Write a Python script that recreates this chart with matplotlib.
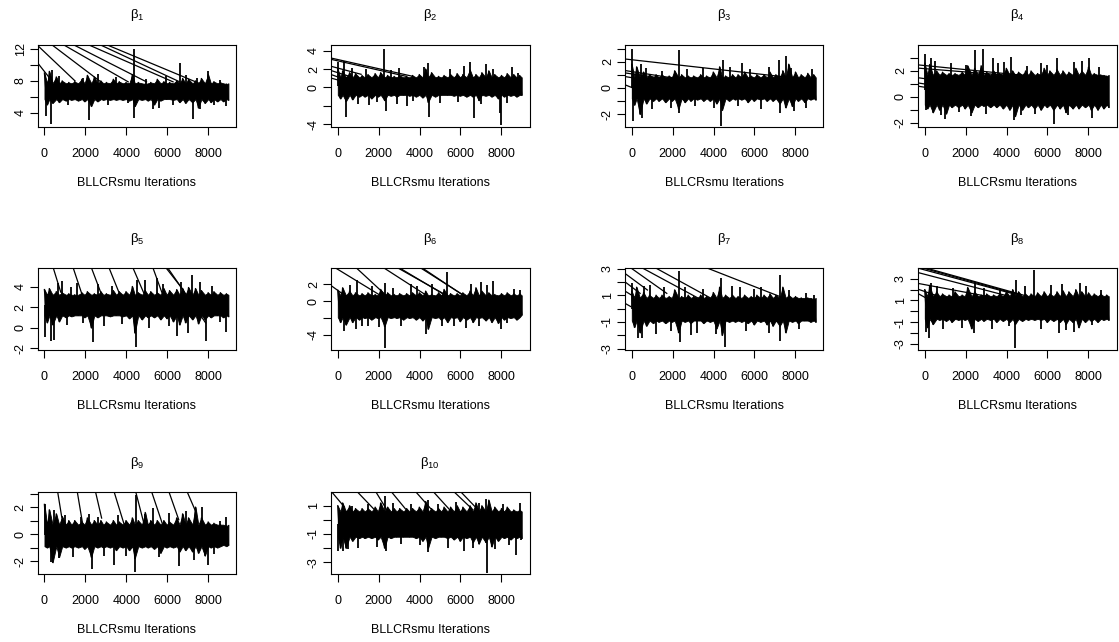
import numpy as np
import matplotlib.pyplot as plt

plt.rcParams['font.family'] = ['Liberation Sans', 'DejaVu Sans']
plt.rcParams['mathtext.fontset'] = 'custom'
plt.rcParams['mathtext.rm'] = 'Liberation Sans'
plt.rcParams['mathtext.it'] = 'Liberation Sans'

# iterations of the local highs and lows of each trace
hi_iter = [1, 240, 580, 870, 1190, 1480, 1830, 2100, 2440, 2760, 3030, 3370, 3660, 3990, 4300,
           4590, 4930, 5200, 5520, 5840, 6120, 6470, 6760, 7050, 7390, 7680, 8010, 8290, 8610, 8900]
lo_iter = [130, 400, 720, 1050, 1320, 1650, 1960, 2290, 2600, 2880, 3210, 3510, 3830, 4150, 4420,
           4770, 5060, 5370, 5680, 5980, 6300, 6610, 6900, 7240, 7530, 7850, 8140, 8460, 8750, 9000]
xticks = [0, 2000, 4000, 6000, 8000]
xlabel = 'BLLCRsmu Iterations'

# ---- beta 1
b1_core = (5.7, 7.7)
b1_hi = [9.0, 9.2, 8.5, 8.0, 7.8, 7.9, 8.2, 8.7, 8.5, 8.0, 7.8, 8.2, 7.9, 7.8, 8.8,
         7.8, 7.6, 7.8, 8.2, 7.9, 7.8, 8.0, 8.3, 8.2, 8.0, 8.3, 8.8, 7.9, 7.8, 7.6]
b1_lo = [5.0, 5.2, 5.3, 5.5, 5.6, 5.5, 5.4, 4.8, 5.4, 5.6, 5.6, 5.6, 5.6, 5.5, 4.8,
         5.6, 5.5, 5.0, 5.5, 5.7, 5.6, 5.3, 5.2, 5.3, 4.6, 5.2, 5.3, 5.4, 5.4, 5.6]
b1_spikes = [(80, 3.5), (300, 2.5), (350, 9.4), (2200, 3.0), (4370, 12.0), (4400, 3.3),
             (5300, 4.4), (6640, 10.3), (7250, 3.2), (7600, 4.4), (8000, 9.3), (8900, 4.8),
             (700, 8.6), (1150, 4.9), (1900, 8.4), (2600, 8.9), (3100, 5.0), (3500, 8.5),
             (4100, 5.2), (4950, 8.3), (5600, 4.6), (5950, 8.6), (6300, 5.0), (6900, 8.7),
             (7450, 8.4), (8300, 4.9), (8600, 8.1)]
b1_diag = [(-325, 10.25, 276, 8.29), (-325, 12.46, 1496, 8.0), (358, 12.58, 2715, 7.96),
           (927, 12.58, 4098, 7.88), (1415, 12.58, 4992, 7.88), (2146, 12.58, 6293, 7.88),
           (2715, 12.58, 6618, 7.88), (3041, 12.58, 7593, 7.67)]
b1_ylim = (2.21, 12.58)
b1_yticks = [4, 6, 8, 10, 12]
b1_ylabels = ['4', '', '8', '', '12']

# ---- beta 2
b2_core = (-0.8, 1.1)
b2_hi = [2.0, 1.8, 1.6, 1.5, 1.3, 1.4, 1.5, 1.6, 1.3, 1.2, 1.3, 1.2, 1.3, 1.4, 2.0,
         1.6, 1.2, 1.3, 1.4, 1.5, 1.4, 1.9, 1.4, 1.6, 1.8, 1.4, 1.3, 1.5, 1.4, 1.3]
b2_lo = [-1.2, -1.5, -1.3, -1.0, -1.0, -1.2, -1.0, -1.4, -0.9, -1.0, -0.8, -0.9, -1.0, -1.1, -1.6,
         -1.0, -0.8, -0.8, -0.9, -0.9, -1.0, -1.0, -1.4, -0.9, -1.0, -1.2, -1.0, -0.9, -1.0, -0.8]
b2_spikes = [(30, 2.8), (330, 2.9), (410, -3.2), (1550, -1.9), (2280, 4.2), (2340, -2.5),
             (2900, -1.8), (3400, -2.0), (4430, 2.7), (4470, -3.2), (6450, 2.8), (6660, -3.3),
             (7250, 2.6), (7920, -2.8), (8000, -4.1), (8500, 2.2), (8800, 1.6),
             (700, 2.1), (1000, -1.8), (1400, 2.0), (1900, -1.6), (2600, 1.9), (3000, 2.1),
             (3700, -1.5), (4200, 2.2), (5000, -1.7), (5500, 2.0), (5900, -1.6), (6200, 2.3),
             (7000, -1.8), (7600, 2.0), (8300, -1.7)]
b2_diag = [(-359, 3.21, 3673, 1.21), (-359, 3.07, 3347, 1.21), (-359, 2.32, 1143, 1.43),
           (-359, 1.86, 571, 1.21), (-359, 1.43, 245, 0.96), (-359, 1.04, 49, 0.79)]
b2_ylim = (-4.25, 4.64)
b2_yticks = [-4, -2, 0, 2, 4]
b2_ylabels = ['-4', '', '0', '2', '4']

# ---- beta 3
b3_core = (-0.8, 0.8)
b3_hi = [1.8, 1.6, 1.2, 1.0, 1.0, 1.0, 0.9, 1.3, 1.0, 0.9, 0.9, 1.0, 0.9, 1.2, 1.6,
         0.9, 1.0, 1.0, 1.2, 0.9, 1.0, 1.0, 1.2, 1.0, 1.3, 1.8, 1.2, 1.0, 1.1, 1.0]
b3_lo = [-1.3, -2.0, -1.2, -1.0, -1.0, -1.1, -1.0, -1.6, -1.1, -1.0, -0.9, -1.0, -1.0, -1.2, -1.7,
         -1.0, -0.9, -0.9, -1.1, -1.0, -0.9, -1.0, -1.0, -1.2, -1.5, -1.4, -1.0, -1.1, -0.9, -0.9]
b3_spikes = [(30, 3.0), (40, -2.5), (500, -2.3), (450, 1.8), (2330, 2.9), (2300, -1.9),
             (4375, -2.9), (4440, 2.1), (5390, 1.9), (7270, -1.9), (7540, 2.4), (7200, 2.1),
             (7950, -1.8), (8800, 1.4),
             (700, 1.5), (1000, -1.6), (1500, 1.3), (1900, -1.5), (2700, 1.4), (3100, -1.4),
             (3500, 1.5), (4000, -1.5), (4800, 1.6), (5200, -1.4), (5800, 1.4), (6300, -1.6),
             (6700, 1.6), (7800, 1.5), (8500, -1.5)]
b3_diag = [(-327, 2.2, 7918, 0.76), (-327, 1.32, 3347, 0.43), (-327, 1.14, 2204, 0.56),
           (-327, 0.86, 1388, 0.43), (-327, 0.23, 49, 0.0)]
b3_ylim = (-2.96, 3.29)
b3_yticks = [-2, -1, 0, 1, 2, 3]
b3_ylabels = ['-2', '', '0', '', '2', '']

# ---- beta 4
b4_core = (-0.6, 1.7)
b4_hi = [2.6, 2.5, 2.0, 1.9, 1.8, 1.8, 1.9, 2.4, 2.2, 2.4, 1.9, 2.0, 1.8, 2.2, 2.0,
         1.9, 2.0, 2.0, 1.8, 2.2, 2.0, 2.1, 2.0, 1.9, 2.2, 2.0, 2.3, 1.8, 1.7, 1.6]
b4_lo = [-0.9, -1.2, -1.0, -1.3, -0.8, -0.8, -0.9, -1.2, -0.8, -0.7, -0.8, -0.8, -0.9, -1.0, -1.5,
         -1.0, -0.8, -0.9, -1.0, -0.8, -1.0, -0.9, -1.2, -0.9, -0.9, -0.8, -1.0, -1.0, -0.9, -0.8]
b4_spikes = [(10, 3.3), (60, -1.0), (300, 3.0), (985, -1.7), (2250, -1.5), (2450, 3.6),
             (2860, 3.7), (3350, 3.0), (4380, -1.8), (4200, 3.1), (6320, -2.1), (6000, 2.5),
             (6470, 3.0), (7700, 2.8), (8050, 3.0), (8200, -1.6), (8900, -0.7),
             (500, 2.8), (800, -1.4), (1300, 2.6), (1700, -1.2), (2000, 2.5), (3000, -1.3),
             (3600, 2.6), (3900, 2.7), (4700, -1.4), (5000, 2.4), (5400, -1.3), (5700, 2.6),
             (7000, -1.4), (7300, 2.7), (8500, 2.3)]
b4_diag = [(-378, 2.48, 5287, 1.59), (-378, 2.23, 5944, 1.42), (-378, 1.49, 1182, 1.16),
           (-378, 1.09, 361, 0.91), (-378, 0.84, 66, 0.73)]
b4_ylim = (-2.3, 4.03)
b4_yticks = [-2, -1, 0, 1, 2, 3]
b4_ylabels = ['-2', '', '0', '', '2', '']

# ---- beta 5
b5_core = (1.2, 3.2)
b5_hi = [3.7, 3.8, 3.5, 3.4, 3.3, 3.2, 3.4, 3.5, 3.3, 3.5, 3.3, 3.6, 3.5, 3.5, 4.0,
         3.4, 3.6, 3.5, 3.4, 3.8, 3.6, 3.7, 3.8, 3.9, 3.8, 3.6, 3.4, 3.5, 3.4, 3.3]
b5_lo = [0.5, 0.3, 0.6, 1.0, 1.1, 1.2, 1.0, 0.0, 1.0, 1.2, 1.1, 1.2, 1.1, 0.9, -0.5,
         0.8, 1.0, 1.0, 0.8, 0.9, 0.6, 0.3, 0.5, 0.8, 0.4, 0.8, 1.0, 1.2, 1.0, 1.1]
b5_spikes = [(40, -0.9), (310, -1.3), (450, -1.2), (860, 4.5), (1600, 4.3), (2360, -1.4),
             (4460, -1.9), (4520, 4.6), (4900, 4.6), (5500, 4.8), (7240, 5.1), (7890, -1.3),
             (7600, 4.4), (6500, -0.8), (8900, -0.4),
             (650, 4.3), (1100, 0.3), (1300, 4.0), (1900, 0.5), (2600, 4.2), (2900, 0.2),
             (3300, 4.1), (3800, 0.4), (5100, 0.0), (5800, 4.2), (6100, 0.2), (6700, 4.4),
             (7000, -0.5), (8200, 4.1), (8600, 0.6)]
b5_diag = [(439, 5.76, 797, 3.46), (1415, 5.76, 1870, 3.04), (2309, 5.76, 2797, 3.2),
           (3171, 5.76, 3724, 3.04), (4341, 5.76, 4862, 3.36), (5317, 5.76, 5756, 3.36),
           (5967, 5.76, 6748, 3.78), (6049, 5.76, 7886, 0.47)]
b5_ylim = (-2.19, 5.77)
b5_yticks = [-2, 0, 2, 4]
b5_ylabels = ['-2', '0', '2', '4']

# ---- beta 6
b6_core = (-1.9, 0.7)
b6_hi = [1.3, 1.6, 1.2, 1.0, 0.9, 1.0, 0.8, 1.4, 1.0, 0.8, 0.9, 0.9, 1.0, 1.0, 1.2,
         0.8, 1.0, 1.4, 0.9, 0.9, 1.0, 1.2, 1.6, 1.2, 1.0, 0.8, 0.9, 1.0, 0.9, 0.9]
b6_lo = [-2.5, -2.8, -2.5, -2.2, -2.0, -2.2, -2.0, -3.0, -2.0, -2.0, -2.2, -2.0, -2.2, -2.3, -3.3,
         -2.0, -2.2, -2.5, -2.0, -2.4, -2.2, -2.5, -2.0, -2.3, -2.5, -2.6, -2.2, -2.0, -2.2, -1.6]
b6_spikes = [(300, -3.5), (950, 2.5), (900, -3.3), (2290, -5.6), (2330, 2.2), (3600, 2.0),
             (4330, -3.9), (5360, 3.5), (6270, -3.2), (7000, 2.3), (7600, 2.4), (8000, -3.3),
             (8900, 1.3), (1500, -3.0),
             (600, 1.9), (1200, -3.0), (1700, 1.8), (2000, -3.1), (2700, 1.6), (3100, -2.9),
             (3900, 1.8), (4600, 2.0), (5100, -3.0), (5700, -2.9), (6500, 2.0), (6900, -3.0),
             (7300, 1.9), (8300, -2.6), (8600, 1.5)]
b6_diag = [(-359, 1.92, 327, 0.72), (-82, 3.92, 2204, 0.52), (931, 3.92, 2531, 0.32),
           (2286, 3.92, 4327, 0.72), (2971, 3.92, 5306, 0.72), (3053, 3.92, 5388, 0.52),
           (4082, 3.92, 6286, 0.52), (4163, 3.92, 6367, 0.32)]
b6_ylim = (-5.84, 3.92)
b6_yticks = [-4, -2, 0, 2]
b6_ylabels = ['-4', '', '0', '2']

# ---- beta 7
b7_core = (-0.9, 0.8)
b7_hi = [1.3, 1.6, 1.2, 1.0, 1.0, 1.0, 0.9, 1.4, 0.9, 1.0, 0.9, 1.0, 0.9, 1.2, 1.6,
         1.0, 1.0, 0.9, 1.0, 0.9, 1.0, 1.0, 1.1, 1.0, 1.6, 1.0, 0.9, 0.8, 0.8, 0.7]
b7_lo = [-1.4, -1.8, -1.3, -1.1, -1.0, -1.1, -1.0, -1.8, -1.0, -1.1, -0.9, -1.1, -1.0, -1.5, -2.0,
         -1.0, -1.0, -1.0, -1.1, -1.2, -1.0, -1.2, -1.3, -1.3, -1.8, -1.0, -1.1, -0.9, -1.0, -1.0]
b7_spikes = [(20, 1.9), (320, -2.2), (500, -2.2), (900, 1.8), (2330, 2.8), (2360, -2.5),
             (2900, -2.0), (4360, 2.3), (4540, -2.9), (5300, 1.6), (6300, 1.6), (7270, 2.5),
             (7230, -2.4), (8900, 1.0),
             (600, 1.7), (1200, -1.9), (1600, 1.6), (1900, -1.7), (2600, 1.6), (3200, -1.8),
             (3500, 1.5), (4100, -1.9), (4900, 1.7), (5600, -1.7), (6000, 1.5), (6700, -1.8),
             (7700, 1.4), (8200, -1.5), (8500, 1.2)]
b7_diag = [(-327, 2.63, 767, 1.39), (-327, 2.0, 408, 1.14), (-327, 1.31, 114, 0.89),
           (-327, 0.39, -49, 0.15), (0, 3.0, 1714, 1.14), (571, 3.0, 3265, 0.77),
           (1224, 3.0, 4033, 0.64), (3755, 3.0, 7265, 0.89)]
b7_ylim = (-3.13, 3.02)
b7_yticks = [-3, -2, -1, 0, 1, 2, 3]
b7_ylabels = ['-3', '', '-1', '', '1', '', '3']

# ---- beta 8
b8_core = (-0.7, 1.4)
b8_hi = [2.0, 2.4, 1.8, 1.6, 1.5, 1.8, 1.5, 2.2, 1.8, 1.5, 1.6, 1.5, 1.6, 1.8, 2.0,
         1.8, 1.6, 1.6, 1.7, 1.8, 1.6, 1.8, 1.9, 1.8, 2.0, 1.8, 1.7, 1.6, 1.6, 1.5]
b8_lo = [-1.5, -1.2, -0.8, -0.9, -1.0, -0.8, -0.8, -1.6, -0.9, -0.9, -0.8, -1.0, -0.9, -1.0, -1.2,
         -0.9, -0.8, -0.8, -0.8, -1.0, -0.9, -1.0, -1.2, -1.0, -1.5, -1.0, -0.9, -1.0, -0.8, -0.8]
b8_spikes = [(50, -1.9), (230, -2.5), (300, 2.6), (2400, -2.0), (2450, 2.6), (4420, -3.4),
             (4450, 2.9), (5340, 3.8), (6550, -2.0), (7300, -1.9), (6700, 2.5), (7600, 2.6),
             (8850, -0.6),
             (600, 2.3), (900, -1.6), (1400, 2.2), (1800, -1.5), (2900, 2.2), (3300, -1.6),
             (3700, 2.0), (4100, -1.4), (4900, 2.3), (5700, -1.6), (6200, 2.4), (6900, -1.7),
             (7900, 2.3), (8200, -1.3), (8600, 2.0)]
b8_diag = [(-296, 3.98, 4384, 1.59), (-49, 3.98, 4631, 1.53), (115, 3.98, 4877, 1.47),
           (-378, 3.61, 4138, 1.38), (-378, 2.6, 3071, 1.38), (-378, 2.08, 690, 1.38),
           (-378, 1.69, 66, 1.23)]
b8_ylim = (-3.61, 3.98)
b8_yticks = [-3, -2, -1, 0, 1, 2, 3]
b8_ylabels = ['-3', '', '-1', '', '1', '', '3']

# ---- beta 9
b9_core = (-0.9, 0.7)
b9_hi = [2.2, 1.8, 1.5, 1.3, 1.0, 1.0, 0.9, 1.2, 1.0, 1.0, 0.9, 1.0, 0.9, 1.0, 1.2,
         1.0, 1.6, 1.0, 1.0, 1.0, 0.9, 1.2, 1.5, 1.2, 2.0, 1.2, 0.9, 0.8, 0.7, 0.6]
b9_lo = [-1.0, -2.1, -1.7, -1.0, -1.0, -1.0, -1.1, -1.7, -1.0, -1.0, -1.0, -1.2, -1.0, -1.2, -1.8,
         -1.0, -1.0, -1.1, -1.4, -1.0, -1.0, -1.3, -1.2, -1.3, -1.4, -1.6, -1.0, -1.0, -0.8, -0.8]
b9_spikes = [(20, 2.2), (300, -2.1), (450, 1.8), (2320, -2.6), (2600, 1.3), (3400, -2.3),
             (4470, 2.9), (4450, -2.8), (5300, 1.9), (6570, -2.4), (7700, 2.0), (7990, -2.3),
             (8900, 1.3),
             (700, -1.8), (1000, 1.4), (1400, -1.7), (1800, 1.3), (2200, 1.5), (2900, -1.6),
             (3600, 1.4), (4000, -1.6), (4900, 1.5), (5600, -1.7), (6100, 1.6), (6900, 1.7),
             (7300, -1.9), (8300, -1.5), (8600, 1.0)]
b9_diag = [(650, 3.1, 846, 1.26), (1610, 3.1, 1902, 0.45), (2504, 3.1, 2797, 1.19),
           (3415, 3.1, 3902, 0.7), (4472, 3.1, 4943, 0.33), (5252, 3.1, 5756, 0.82),
           (6098, 3.1, 6569, 1.07), (6992, 3.1, 7431, 1.56)]
b9_ylim = (-2.98, 3.1)
b9_yticks = [-2, -1, 0, 1, 2, 3]
b9_ylabels = ['-2', '', '0', '', '2', '']

# ---- beta 10
b10_core = (-1.2, 0.6)
b10_hi = [1.0, 1.2, 1.0, 0.8, 0.8, 0.8, 0.9, 1.2, 0.9, 0.8, 0.8, 0.8, 0.8, 0.9, 1.3,
          0.8, 0.8, 0.9, 0.9, 1.0, 0.9, 1.0, 1.2, 1.0, 1.4, 0.9, 0.8, 0.9, 0.7, 0.7]
b10_lo = [-2.0, -2.0, -1.5, -1.3, -1.3, -1.3, -1.4, -2.0, -1.3, -1.2, -1.2, -1.2, -1.3, -1.5, -2.0,
          -1.3, -1.2, -1.3, -1.4, -1.5, -1.3, -1.6, -1.7, -1.6, -1.9, -1.5, -1.3, -1.4, -1.3, -1.3]
b10_spikes = [(30, -2.2), (250, -2.2), (500, -2.1), (2300, 1.7), (2350, -2.2), (4400, -2.3),
              (4430, 1.4), (5400, -2.0), (6200, -2.2), (7310, -3.8), (7230, 1.5), (8700, -2.5),
              (8900, 1.2), (8950, -1.4),
              (700, 1.0), (1000, -2.0), (1500, 1.1), (1900, -1.9), (2700, 1.2), (3100, -1.7),
              (3600, 1.1), (4000, -1.8), (4900, 1.1), (5800, 1.3), (6600, -2.0), (6900, 1.2),
              (7700, -2.1), (8100, 1.1), (8400, -1.8)]
b10_diag = [(-278, 1.96, 327, 0.91), (980, 1.96, 1796, 0.72), (1878, 1.96, 2449, 0.6),
            (2645, 1.96, 3347, 0.72), (3837, 1.96, 4816, 0.36), (4702, 1.96, 5551, 0.6),
            (5714, 1.96, 6612, 0.72), (6041, 1.96, 6939, 0.6)]
b10_ylim = (-3.87, 1.96)
b10_yticks = [-3, -2, -1, 0, 1]
b10_ylabels = ['-3', '', '-1', '', '1']

panels = [
    (b1_core, b1_hi, b1_lo, b1_spikes, b1_diag, b1_ylim, b1_yticks, b1_ylabels),
    (b2_core, b2_hi, b2_lo, b2_spikes, b2_diag, b2_ylim, b2_yticks, b2_ylabels),
    (b3_core, b3_hi, b3_lo, b3_spikes, b3_diag, b3_ylim, b3_yticks, b3_ylabels),
    (b4_core, b4_hi, b4_lo, b4_spikes, b4_diag, b4_ylim, b4_yticks, b4_ylabels),
    (b5_core, b5_hi, b5_lo, b5_spikes, b5_diag, b5_ylim, b5_yticks, b5_ylabels),
    (b6_core, b6_hi, b6_lo, b6_spikes, b6_diag, b6_ylim, b6_yticks, b6_ylabels),
    (b7_core, b7_hi, b7_lo, b7_spikes, b7_diag, b7_ylim, b7_yticks, b7_ylabels),
    (b8_core, b8_hi, b8_lo, b8_spikes, b8_diag, b8_ylim, b8_yticks, b8_ylabels),
    (b9_core, b9_hi, b9_lo, b9_spikes, b9_diag, b9_ylim, b9_yticks, b9_ylabels),
    (b10_core, b10_hi, b10_lo, b10_spikes, b10_diag, b10_ylim, b10_yticks, b10_ylabels),
]

W, H = 1119, 642
fig = plt.figure(figsize=(W / 100, H / 100), dpi=100)

col_left = [37.7, 331, 625, 918]
row_top = [44.7, 268.3, 492.3]
pw, ph = 198.5, 82

zig_x = np.ravel(np.column_stack([hi_iter, lo_iter]))

for i, (core, hi, lo, spikes, diag, ylim, yt, yl) in enumerate(panels):
    r, c = divmod(i, 4)
    left, top = col_left[c], row_top[r]
    ax = fig.add_axes([left / W, 1 - (top + ph) / H, pw / W, ph / H])

    # dense body of the trace: solid core with teeth up to the local highs and down to the lows
    n = len(hi)
    upper = np.ravel(np.column_stack([hi, np.full(n, core[1])]))
    lower = np.ravel(np.column_stack([np.full(n, core[0]), lo]))
    ax.fill_between(zig_x, lower, upper, color='black', linewidth=0.6)
    zig_y = np.ravel(np.column_stack([hi, lo]))
    ax.plot(zig_x, zig_y, color='black', linewidth=1.0)
    mid = (core[0] + core[1]) / 2
    sx = [s[0] for s in spikes]
    sy = [s[1] for s in spikes]
    ax.vlines(sx, mid, sy, color='black', linewidth=1.3)
    for x0, y0, x1, y1 in diag:
        ax.plot([x0, x1], [y0, y1], color='black', linewidth=0.9)

    ax.set_xlim(-330, 9380)
    ax.set_ylim(*ylim)
    ax.set_xticks(xticks)
    ax.set_xticklabels([str(t) for t in xticks])
    ax.set_yticks(yt)
    ax.set_yticklabels(yl)
    ax.tick_params(axis='both', length=5.5, width=0.8, labelsize=9, color='black')
    ax.tick_params(axis='x', pad=9.5)
    ax.tick_params(axis='y', pad=2.5, labelrotation=90)
    for lab in ax.get_yticklabels():
        lab.set_va('center')
    for sp in ax.spines.values():
        sp.set_linewidth(0.8)

    cx = (left + pw / 2) / W
    fig.text(cx, 1 - (top - 29.5) / H, r'$\mathregular{\beta_{%d}}$' % (i + 1),
             ha='center', va='center', fontsize=9.5)
    fig.text(cx, 1 - (top + ph + 56) / H, xlabel, ha='center', va='center', fontsize=9)

fig.savefig('out.png', dpi=100)
